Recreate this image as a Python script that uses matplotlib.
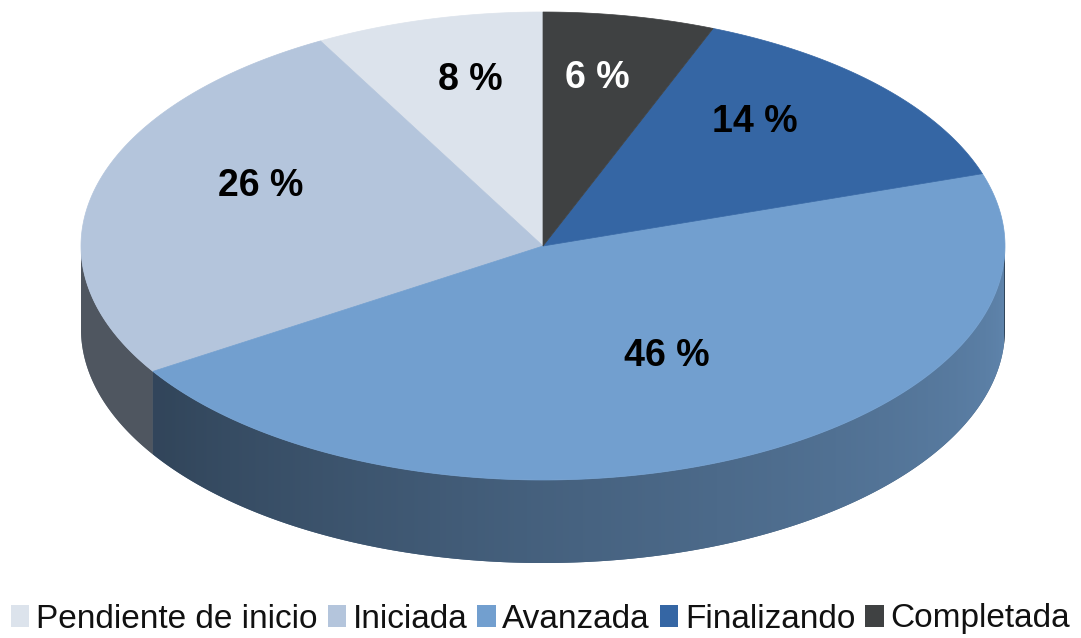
import numpy as np
import matplotlib.pyplot as plt
from matplotlib.patches import Polygon, Rectangle
from matplotlib.colors import to_rgb

# slices, counter-clockwise from 12 o'clock
categories = ['Pendiente de inicio', 'Iniciada', 'Avanzada', 'Finalizando', 'Completada']
values = [8, 26, 46, 14, 6]
colors = ['#dce3ec', '#b4c5dc', '#729fcf', '#3566a4', '#3f4142']

# pixel geometry of the tilted disc
cx, cy, a, b, depth = 543, 246, 462, 234, 83

fig = plt.figure(figsize=(10.81, 6.38), dpi=100)
ax = fig.add_axes([0, 0, 1, 1])
ax.set_xlim(0, 1081)
ax.set_ylim(638, 0)
ax.axis('off')


def pt(t, dy=0.0):
    r = np.radians(t)
    return cx + a * np.cos(r), cy - b * np.sin(r) + dy


def shade(t):
    t = t % 360
    return np.interp(t, [180, 215, 270, 360], [0.44, 0.44, 0.61, 0.84])


fracs = np.array(values, dtype=float) / sum(values)
edges = 90 + 360 * np.concatenate([[0], np.cumsum(fracs)])

# side walls (only the front half is visible), shaded with a clipped gradient image
xcols = np.arange(cx - a, cx + a + 1, 1.0)
tcols = 360 - np.degrees(np.arccos(np.clip((xcols - cx) / a, -1, 1)))
for i, col in enumerate(colors):
    t1, t2 = edges[i], edges[i + 1]
    t = np.linspace(t1, t2, 400)
    t = t[np.sin(np.radians(t)) <= 0]
    if len(t) < 2:
        continue
    xs, ys = pt(t)
    verts = list(zip(xs, ys)) + list(zip(xs[::-1], ys[::-1] + depth))
    base = np.array(to_rgb(col))
    poly = Polygon(verts, closed=True, facecolor=base * 0.6, edgecolor='none')
    ax.add_patch(poly)
    img = np.clip(base[None, :] * shade(tcols)[:, None], 0, 1)[None, :, :]
    im = ax.imshow(img, extent=(xcols[0], xcols[-1], cy + b + depth + 2, cy - 2),
                   aspect='auto', interpolation='bilinear', zorder=1)
    im.set_clip_path(poly)
ax.set_xlim(0, 1081)
ax.set_ylim(638, 0)

# top face
for i, col in enumerate(colors):
    t = np.linspace(edges[i], edges[i + 1], 200)
    xs, ys = pt(t)
    verts = [(cx, cy)] + list(zip(xs, ys))
    ax.add_patch(Polygon(verts, closed=True, facecolor=col, edgecolor=col,
                         linewidth=0.5, zorder=2))

# percentage labels
for i, col in enumerate(colors):
    mid = (edges[i] + edges[i + 1]) / 2
    r = np.radians(mid)
    x = cx + 0.63 * a * np.cos(r)
    y = cy - 0.63 * b * np.sin(r) - 23
    tc = 'white' if categories[i] == 'Completada' else 'black'
    ax.text(x, y, f'{values[i]} %', ha='center', va='center', fontsize=27,
            fontweight='bold', family='Liberation Sans', color=tc, zorder=3)

handles = [Rectangle((0, 0), 1, 1, facecolor=c, edgecolor='none') for c in colors]
fig.legend(handles, categories, loc='center', bbox_to_anchor=(0.5, 1 - 619 / 638),
           ncol=5, frameon=False, prop={'family': 'Liberation Sans', 'size': 24},
           handlelength=0.55, handleheight=0.65, handletextpad=0.2, columnspacing=0.3,
           borderaxespad=0, borderpad=0, labelcolor='#111111')

fig.savefig('out.png', dpi=100)
